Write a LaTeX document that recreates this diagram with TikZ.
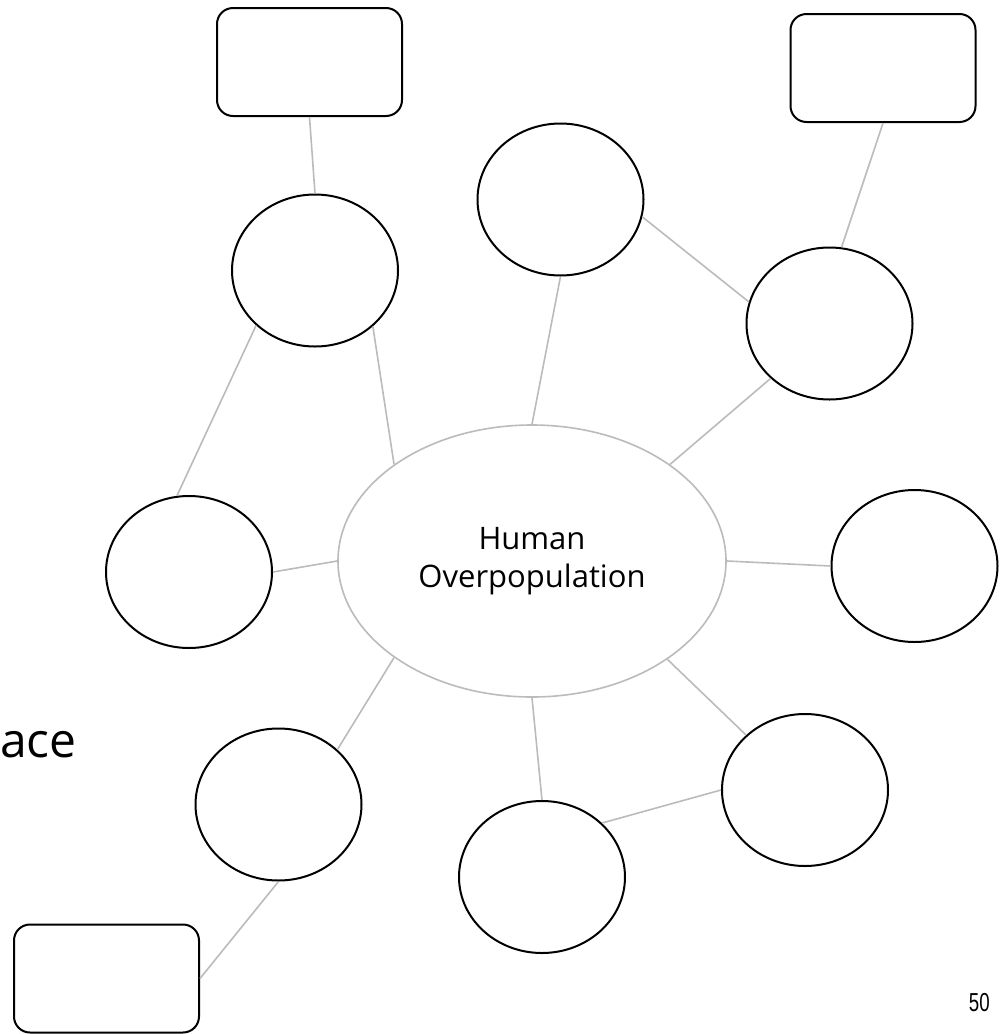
\documentclass[tikz,border=0pt]{standalone}
\usepackage{fontspec}
\setmainfont{Open Sans}
\newfontfamily\pagefont{Liberation Sans}
\usepackage{tikz}
\usetikzlibrary{shapes.geometric}
\definecolor{InkBlack}{HTML}{000000}
\definecolor{LinkGray}{HTML}{BBBBBB}

\begin{document}
\begin{tikzpicture}[
    x=1pt, y=-1pt,
    bubble/.style={ellipse, draw=InkBlack, line width=2pt, minimum width=166pt, minimum height=152pt},
    card/.style={rectangle, rounded corners=16pt, draw=InkBlack, line width=2pt,
                 minimum width=185pt, minimum height=108pt},
    hub/.style={ellipse, draw=LinkGray, line width=1.6pt, minimum width=388pt, minimum height=272pt,
                align=center, font=\fontsize{31}{38}\selectfont},
    link/.style={draw=LinkGray, line width=1.6pt}
]
    \useasboundingbox (0,0) rectangle (1000,1034);

    % Central topic
    \node[hub] (hub) at (532,561) {Human\\Overpopulation};

    % Bubbles around it
    \node[bubble] (b1) at (315,270.5) {};
    \node[bubble] (b2) at (560.5,199.5) {};
    \node[bubble] (b3) at (829.5,323.5) {};
    \node[bubble] (b4) at (189,572) {};
    \node[bubble] (b5) at (914.5,566) {};
    \node[bubble] (b6) at (278.5,804.5) {};
    \node[bubble] (b7) at (542,877) {};
    \node[bubble] (b8) at (805,790) {};

    % Empty cards
    \node[card] (nw) at (309.5,62) {};
    \node[card] (ne) at (883,68) {};
    \node[card] (sw) at (106.5,978.5) {};

    % Cut-off word and page number
    \node[anchor=base west, inner sep=0pt, font=\fontsize{48}{58}\selectfont] (frag) at (0,757) {ace};
    \node[anchor=base east, inner sep=0pt, font=\pagefont\fontsize{26}{30}\selectfont] (pageno) at (990,1011) {\scalebox{0.72}[1]{50}};

    % Links
    \draw[link] (nw.south) -- (b1.north);
    \draw[link] (b1.223) -- (b4.99);
    \draw[link] (b1.316) -- (hub.145);
    \draw[link] (b2.south) -- (hub.north);
    \draw[link] (b2.348) -- (b3.165);
    \draw[link] (b3.81) -- (ne.south);
    \draw[link] (b3.223) -- (hub.35);
    \draw[link] (b4.east) -- (hub.west);
    \draw[link] (hub.east) -- (b5.west);
    \draw[link] (hub.215) -- (b6.43);
    \draw[link] (b6.south) -- (sw.east);
    \draw[link] (hub.south) -- (b7.north);
    \draw[link] (hub.324) -- (b8.137);
    \draw[link] (b7.42) -- (b8.west);
\end{tikzpicture}
\end{document}
